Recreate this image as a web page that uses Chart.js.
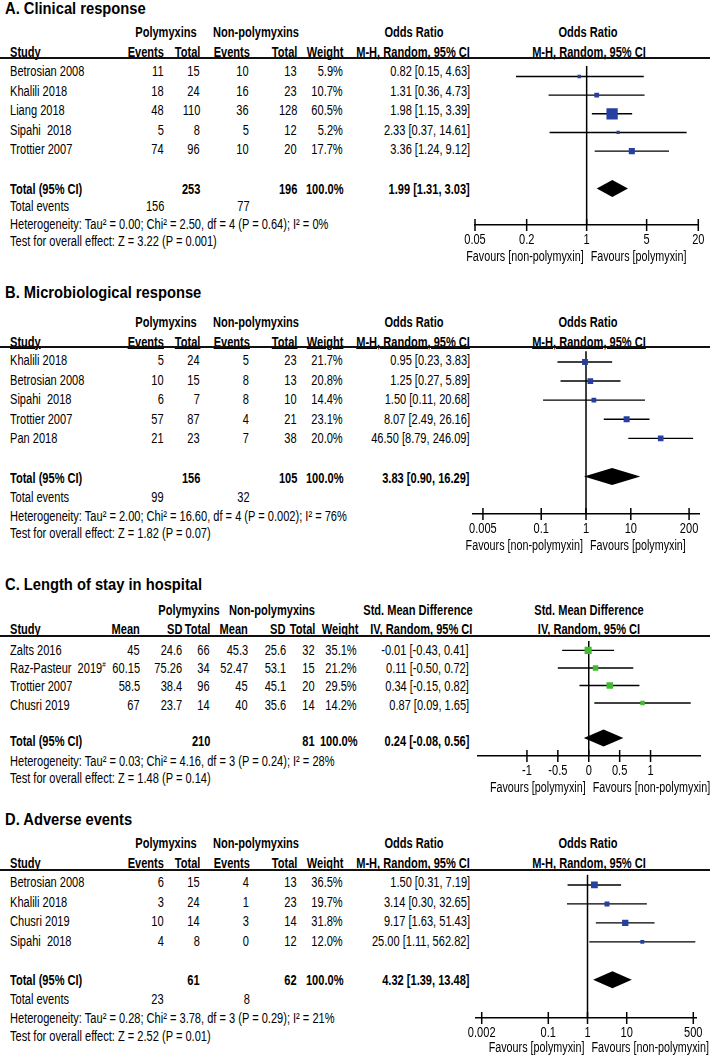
<!DOCTYPE html>
<html>
<head>
<meta charset="utf-8">
<script src="https://cdn.jsdelivr.net/npm/chart.js@4.4.0/dist/chart.umd.min.js"></script>
<style>
  body { margin: 0; background: #fff; }
  #page { position: relative; width: 710px; height: 1058px; overflow: hidden; background: #fff;
          font-family: 'Liberation Sans', Arial, sans-serif; font-size: 14px; color: #000; }
  .t { position: absolute; white-space: pre; line-height: 16px; height: 16px; transform: scaleX(0.79); }
  .l { transform-origin: left center; }
  .r { transform-origin: right center; }
  .c { transform-origin: center center; text-align: center; width: 300px; }
  .b { font-weight: bold; }
  .u { text-decoration: underline; }
  .title { font-weight: bold; font-size: 16px; transform: scaleX(0.92); }
  .hline { position: absolute; left: 0; width: 710px; height: 2px; background: #111; }
  sup { font-size: 8px; line-height: 0; }
</style>
</head>
<body>
<div id="page"></div>
<script>
const FONT = "'Liberation Sans', Arial, sans-serif";
const NARROW = 0.79;

// A. Clinical response
const clinStudies = ['Betrosian 2008', 'Khalili 2018', 'Liang 2018', 'Sipahi  2018', 'Trottier 2007'];
const clinPolyEvents = [11, 18, 48, 5, 74];
const clinPolyTotal = [15, 24, 110, 8, 96];
const clinNonEvents = [10, 16, 36, 5, 10];
const clinNonTotal = [13, 23, 128, 12, 20];
const clinWeight = [5.9, 10.7, 60.5, 5.2, 17.7];
const clinOR = [0.82, 1.31, 1.98, 2.33, 3.36];
const clinLow = [0.15, 0.36, 1.15, 0.37, 1.24];
const clinHigh = [4.63, 4.73, 3.39, 14.61, 9.12];
const clinPooled = [1.99, 1.31, 3.03];
const clinTotals = [253, 196];
const clinTotalEvents = [156, 77];
const clinTicks = [0.05, 0.2, 1, 5, 20];
const clinHet = 'Heterogeneity: Tau² = 0.00; Chi² = 2.50, df = 4 (P = 0.64); I² = 0%';
const clinTest = 'Test for overall effect: Z = 3.22 (P = 0.001)';

// B. Microbiological response
const microStudies = ['Khalili 2018', 'Betrosian 2008', 'Sipahi  2018', 'Trottier 2007', 'Pan 2018'];
const microPolyEvents = [5, 10, 6, 57, 21];
const microPolyTotal = [24, 15, 7, 87, 23];
const microNonEvents = [5, 8, 8, 4, 7];
const microNonTotal = [23, 13, 10, 21, 38];
const microWeight = [21.7, 20.8, 14.4, 23.1, 20.0];
const microOR = [0.95, 1.25, 1.50, 8.07, 46.50];
const microLow = [0.23, 0.27, 0.11, 2.49, 8.79];
const microHigh = [3.83, 5.89, 20.68, 26.16, 246.09];
const microPooled = [3.83, 0.90, 16.29];
const microTotals = [156, 105];
const microTotalEvents = [99, 32];
const microTicks = [0.005, 0.1, 1, 10, 200];
const microHet = 'Heterogeneity: Tau² = 2.00; Chi² = 16.60, df = 4 (P = 0.002); I² = 76%';
const microTest = 'Test for overall effect: Z = 1.82 (P = 0.07)';

// C. Length of stay in hospital
const stayStudies = ['Zalts 2016', 'Raz-Pasteur  2019', 'Trottier 2007', 'Chusri 2019'];
const stayNotes = ['', '#', '', ''];
const stayPolyMean = [45, 60.15, 58.5, 67];
const stayPolySD = [24.6, 75.26, 38.4, 23.7];
const stayPolyTotal = [66, 34, 96, 14];
const stayNonMean = [45.3, 52.47, 45, 40];
const stayNonSD = [25.6, 53.1, 45.1, 35.6];
const stayNonTotal = [32, 15, 20, 14];
const stayWeight = [35.1, 21.2, 29.5, 14.2];
const staySMD = [-0.01, 0.11, 0.34, 0.87];
const stayLow = [-0.43, -0.50, -0.15, 0.09];
const stayHigh = [0.41, 0.72, 0.82, 1.65];
const stayPooled = [0.24, -0.08, 0.56];
const stayTotals = [210, 81];
const stayTicks = [-1, -0.5, 0, 0.5, 1];
const stayHet = 'Heterogeneity: Tau² = 0.03; Chi² = 4.16, df = 3 (P = 0.24); I² = 28%';
const stayTest = 'Test for overall effect: Z = 1.48 (P = 0.14)';

// D. Adverse events
const advStudies = ['Betrosian 2008', 'Khalili 2018', 'Chusri 2019', 'Sipahi  2018'];
const advPolyEvents = [6, 3, 10, 4];
const advPolyTotal = [15, 24, 14, 8];
const advNonEvents = [4, 1, 3, 0];
const advNonTotal = [13, 23, 14, 12];
const advWeight = [36.5, 19.7, 31.8, 12.0];
const advOR = [1.50, 3.14, 9.17, 25.00];
const advLow = [0.31, 0.30, 1.63, 1.11];
const advHigh = [7.19, 32.65, 51.43, 562.82];
const advPooled = [4.32, 1.39, 13.48];
const advTotals = [61, 62];
const advTotalEvents = [23, 8];
const advTicks = [0.002, 0.1, 1, 10, 500];
const advHet = 'Heterogeneity: Tau² = 0.28; Chi² = 3.78, df = 3 (P = 0.29); I² = 21%';
const advTest = 'Test for overall effect: Z = 2.52 (P = 0.01)';

const favPolyRight = ['Favours [non-polymyxin]', 'Favours [polymyxin]'];
const favPolyLeft = ['Favours [polymyxin]', 'Favours [non-polymyxin]'];

const BLUE = '#2540a0';
const GREEN = '#3fbd2e';

const page = document.getElementById('page');

function put(text, x, y, align, cls, sup) {
  const d = document.createElement('div');
  d.className = 't ' + (cls || '');
  d.textContent = text;
  if (sup) {
    const s = document.createElement('sup');
    s.textContent = sup;
    d.appendChild(s);
  }
  d.style.top = (y - 8) + 'px';
  if (align === 'right') {
    d.classList.add('r');
    d.style.right = (710 - x) + 'px';
  } else if (align === 'center') {
    d.classList.add('c');
    d.style.left = (x - 150) + 'px';
  } else {
    d.classList.add('l');
    d.style.left = x + 'px';
  }
  page.appendChild(d);
}

function ci(e, l, h) {
  return `${e.toFixed(2)} [${l.toFixed(2)}, ${h.toFixed(2)}]`;
}

const layouts = {
  or: {
    h1: [['Polymyxins', 166], ['Non-polymyxins', 256], ['Odds Ratio', 414], ['Odds Ratio', 588]],
    h2: [['Events', 164], ['Total', 200], ['Events', 250], ['Total', 297], ['Weight', 343], ['M-H, Random, 95% CI', 470]],
    plotH2: 'M-H, Random, 95% CI',
    cols: [164, 200, 249, 297], weightX: 343, ciX: 470,
    totalCols: [200, 297], eventCols: [164, 250]
  },
  smd: {
    h1: [['Polymyxins', 189], ['Non-polymyxins', 272], ['Std. Mean Difference', 418], ['Std. Mean Difference', 589]],
    h2: [['Mean', 140], ['SD', 182], ['Total', 210], ['Mean', 248], ['SD', 285], ['Total', 315], ['Weight', 358], ['IV, Random, 95% CI', 472]],
    plotH2: 'IV, Random, 95% CI',
    cols: [140, 182, 210, 248, 286, 315], weightX: 357, ciX: 469,
    totalCols: [210, 315], eventCols: null
  }
};

const panels = [
  {
    title: 'A. Clinical response', kind: 'or', color: BLUE, box: 1.45,
    studies: clinStudies, cols: [clinPolyEvents, clinPolyTotal, clinNonEvents, clinNonTotal],
    weight: clinWeight, est: clinOR, low: clinLow, high: clinHigh, pooled: clinPooled,
    totals: clinTotals, events: clinTotalEvents, het: clinHet, test: clinTest,
    ticks: clinTicks, favours: favPolyRight,
    L: { titleY: 9, h1Y: 32, h2Y: 51.5, lineY: 58, rowY: 69, step: 19.6, dy: 2, totalIdx: 6,
         eventsY: 206, hetY: 224, testY: 241, axisY: 225, favDy: 32, axL: 475, axR: 698.3, min: 0.05, max: 20 }
  },
  {
    title: 'B. Microbiological response', kind: 'or', color: BLUE, box: 1.25,
    studies: microStudies, cols: [microPolyEvents, microPolyTotal, microNonEvents, microNonTotal],
    weight: microWeight, est: microOR, low: microLow, high: microHigh, pooled: microPooled,
    totals: microTotals, events: microTotalEvents, het: microHet, test: microTest,
    ticks: microTicks, favours: favPolyRight,
    L: { titleY: 293, h1Y: 321.5, h2Y: 341.5, lineY: 347, rowY: 358, step: 19.6, dy: 2, totalIdx: 6,
         eventsY: 497, hetY: 515.5, testY: 533, axisY: 514, favDy: 32, axL: 473, axR: 699, min: 0.003, max: 333 }
  },
  {
    title: 'C. Length of stay in hospital', kind: 'smd', color: GREEN, box: 1.2,
    studies: stayStudies, notes: stayNotes,
    cols: [stayPolyMean, stayPolySD, stayPolyTotal, stayNonMean, stayNonSD, stayNonTotal],
    weight: stayWeight, est: staySMD, low: stayLow, high: stayHigh, pooled: stayPooled,
    totals: stayTotals, events: null, het: stayHet, test: stayTest,
    ticks: stayTicks, favours: favPolyLeft,
    L: { titleY: 585, h1Y: 610, h2Y: 629.3, lineY: 636, rowY: 645.8, step: 18.3, dy: 4, totalIdx: 5,
         eventsY: 0, hetY: 761, testY: 778, axisY: 755.5, favDy: 32.5, axL: 477.5, axR: 700, min: -1.8, max: 1.8 }
  },
  {
    title: 'D. Adverse events', kind: 'or', color: BLUE, box: 1.12,
    studies: advStudies, cols: [advPolyEvents, advPolyTotal, advNonEvents, advNonTotal],
    weight: advWeight, est: advOR, low: advLow, high: advHigh, pooled: advPooled,
    totals: advTotals, events: advTotalEvents, het: advHet, test: advTest,
    ticks: advTicks, favours: favPolyLeft,
    L: { titleY: 820, h1Y: 843.3, h2Y: 863.3, lineY: 869.5, rowY: 880, step: 19.6, dy: 2, totalIdx: 5,
         eventsY: 999, hetY: 1018, testY: 1036, axisY: 1017.7, favDy: 30, axL: 476, axR: 696, min: 0.00143, max: 586 }
  }
];

function narrowText(ctx, text, x, y, align, k) {
  ctx.save();
  ctx.translate(x, y);
  ctx.scale(k || NARROW, 1);
  ctx.textAlign = align;
  ctx.textBaseline = 'middle';
  ctx.fillText(text, 0, 0);
  ctx.restore();
}

// draws null line, pooled diamond, tick marks, tick labels and the favours labels
const forestPlugin = {
  id: 'forest',
  beforeDatasetsDraw(chart, args, opts) {
    const { ctx, chartArea: a, scales: { x } } = chart;
    const x0 = x.getPixelForValue(opts.nullVal);
    ctx.save();
    ctx.strokeStyle = '#000';
    ctx.lineWidth = 1.5;
    ctx.beginPath();
    ctx.moveTo(x0, a.top);
    ctx.lineTo(x0, a.bottom);
    ctx.stroke();
    ctx.restore();
  },
  afterDraw(chart, args, opts) {
    const { ctx, chartArea: a, scales: { x, y } } = chart;
    const x0 = x.getPixelForValue(opts.nullVal);
    ctx.save();
    // diamond
    const yd = y.getPixelForValue(opts.totalIdx);
    const xe = x.getPixelForValue(opts.pooled[0]);
    const xl = x.getPixelForValue(opts.pooled[1]);
    const xh = x.getPixelForValue(opts.pooled[2]);
    ctx.fillStyle = '#000';
    ctx.beginPath();
    ctx.moveTo(xl, yd);
    ctx.lineTo(xe, yd - 8.5);
    ctx.lineTo(xh, yd);
    ctx.lineTo(xe, yd + 8.5);
    ctx.closePath();
    ctx.fill();
    // tick marks crossing the axis, with labels
    ctx.strokeStyle = '#000';
    ctx.lineWidth = 1.5;
    ctx.font = '14px ' + FONT;
    x.ticks.forEach(t => {
      const px = x.getPixelForValue(t.value);
      ctx.beginPath();
      ctx.moveTo(px, a.bottom - 6);
      ctx.lineTo(px, a.bottom + 6);
      ctx.stroke();
      narrowText(ctx, String(t.value), px, a.bottom + 15, 'center');
    });
    // favours labels
    narrowText(ctx, opts.favours[0], x0 - 3, a.bottom + opts.favDy, 'right', 0.77);
    narrowText(ctx, opts.favours[1], x0 + 4, a.bottom + opts.favDy, 'left', 0.77);
    ctx.restore();
  }
};

function drawTable(p) {
  const L = p.L;
  const lay = layouts[p.kind];
  put(p.title, 5, L.titleY, 'left', 'title');
  lay.h1.forEach(([txt, cx]) => put(txt, cx, L.h1Y, 'center', 'b'));
  put('Study', 10, L.h2Y, 'left', 'b u');
  lay.h2.forEach(([txt, rx]) => put(txt, rx, L.h2Y, 'right', 'b u'));
  put(lay.plotH2, 589, L.h2Y, 'center', 'b u');

  const line = document.createElement('div');
  line.className = 'hline';
  line.style.top = (L.lineY - 1) + 'px';
  page.appendChild(line);

  p.studies.forEach((s, i) => {
    const y = L.rowY + i * L.step + L.dy;
    put(s, 10, y, 'left', '', p.notes ? p.notes[i] : '');
    p.cols.forEach((col, c) => put(String(col[i]), lay.cols[c], y, 'right'));
    put(p.weight[i].toFixed(1) + '%', lay.weightX, y, 'right');
    put(ci(p.est[i], p.low[i], p.high[i]), lay.ciX, y, 'right');
  });

  const ty = L.rowY + L.totalIdx * L.step + L.dy;
  put('Total (95% CI)', 10, ty, 'left', 'b');
  put(String(p.totals[0]), lay.totalCols[0], ty, 'right', 'b');
  put(String(p.totals[1]), lay.totalCols[1], ty, 'right', 'b');
  put('100.0%', lay.weightX, ty, 'right', 'b');
  put(ci(p.pooled[0], p.pooled[1], p.pooled[2]), lay.ciX, ty, 'right', 'b');

  if (p.events) {
    put('Total events', 10, L.eventsY, 'left');
    put(String(p.events[0]), lay.eventCols[0], L.eventsY, 'right');
    put(String(p.events[1]), lay.eventCols[1], L.eventsY, 'right');
  }
  put(p.het, 10, L.hetY, 'left');
  put(p.test, 10, L.testY, 'left');
}

function drawPlot(p) {
  const L = p.L;
  const axisH = 44;
  const h = Math.round(L.axisY - L.lineY) + axisH;
  const cv = document.createElement('canvas');
  cv.width = 250;
  cv.height = h;
  cv.style.cssText = `position:absolute;left:460px;top:${L.lineY}px;width:250px;height:${h}px;`;
  page.appendChild(cv);

  const isLog = p.kind === 'or';
  const yMin = (L.lineY - L.rowY) / L.step;
  const yMax = (L.lineY + h - axisH - L.rowY) / L.step;

  const datasets = [{
    data: p.est.map((v, i) => ({ x: v, y: i })),
    pointStyle: 'rect',
    pointRadius: p.weight.map(w => p.box * Math.sqrt(w) / Math.SQRT2),
    backgroundColor: p.color,
    borderWidth: 0
  }];
  p.low.forEach((lo, i) => {
    datasets.push({
      data: [{ x: lo, y: i }, { x: p.high[i], y: i }],
      showLine: true,
      borderColor: '#000',
      borderWidth: 1.4,
      pointRadius: 0
    });
  });

  new Chart(cv, {
    type: 'scatter',
    data: { datasets },
    options: {
      responsive: false,
      animation: false,
      devicePixelRatio: 1,
      layout: { padding: { left: L.axL - 460, right: 710 - L.axR, top: 0, bottom: 0 } },
      plugins: {
        legend: { display: false },
        tooltip: { enabled: false },
        forest: {
          nullVal: isLog ? 1 : 0,
          pooled: p.pooled,
          totalIdx: L.totalIdx,
          favours: p.favours,
          favDy: L.favDy
        }
      },
      scales: {
        x: {
          type: isLog ? 'logarithmic' : 'linear',
          min: L.min,
          max: L.max,
          position: 'bottom',
          grid: { display: false },
          border: { display: true, color: '#000', width: 1.5 },
          afterBuildTicks: s => { s.ticks = p.ticks.map(v => ({ value: v })); },
          afterFit: s => { s.height = axisH; },
          ticks: { display: false }
        },
        y: { type: 'linear', display: false, reverse: true, min: yMin, max: yMax }
      }
    },
    plugins: [forestPlugin]
  });
}

panels.forEach(p => {
  drawTable(p);
  drawPlot(p);
});
</script>
</body>
</html>
